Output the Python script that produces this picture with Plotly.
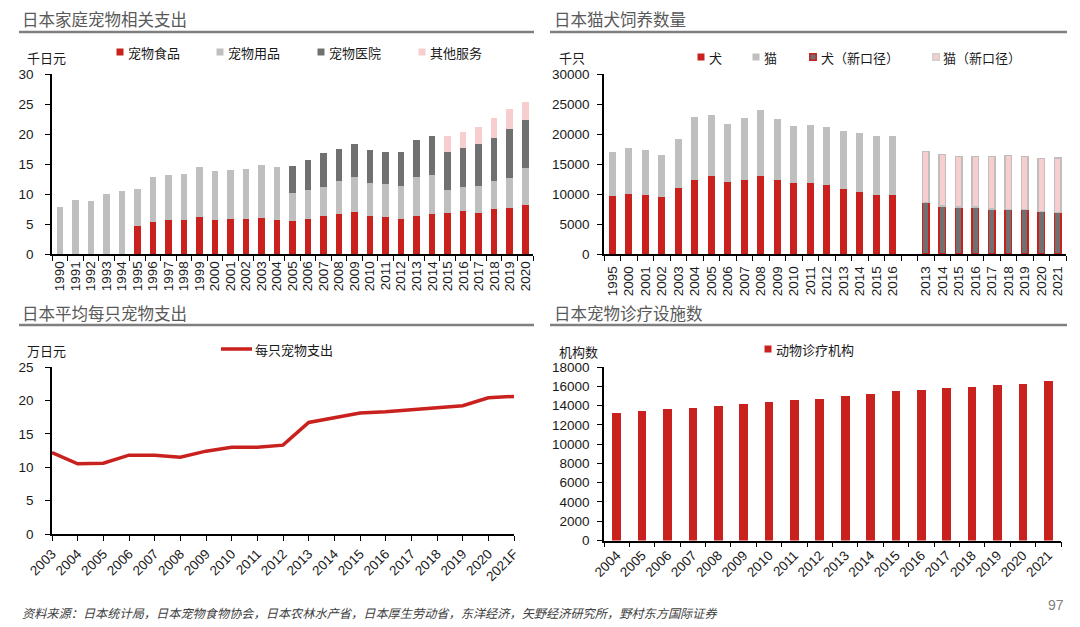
import plotly.graph_objects as go

W, H = 1080, 627
OFF = 8  # the page body adds an 8px margin around the figure
RED = "#C9211E"
LGRAY = "#BFBFBF"
DGRAY = "#707070"
PINK = "#F7CDCD"
CJK = "Noto Sans CJK SC"
NUM = "Liberation Sans, Arial, sans-serif"

# ---------------- data ----------------
# Chart 1: 日本家庭宠物相关支出 (千日元)
years1 = [str(y) for y in range(1990, 2021)]
pet_food = [None] * 5 + [4.7, 5.3, 5.6, 5.7, 6.2, 5.7, 5.8, 5.9, 6.0, 5.7,
                         5.5, 5.9, 6.4, 6.7, 7.0, 6.3, 6.1, 5.9, 6.4, 6.7,
                         6.9, 7.1, 6.9, 7.5, 7.7, 8.1]
pet_supplies = [7.8, 9.0, 8.9, 10.0, 10.5, 6.1, 7.5, 7.5, 7.7, 8.3,
                8.2, 8.2, 8.2, 8.9, 8.8, 4.7, 4.8, 4.8, 5.4, 5.8,
                5.5, 5.5, 5.5, 6.5, 6.4, 3.8, 4.0, 4.4, 4.6, 5.0, 6.2]
pet_hospital = [None] * 15 + [4.5, 5.0, 5.6, 5.4, 5.5, 5.5, 5.4, 5.6, 6.1,
                              6.5, 6.3, 6.6, 7.1, 7.3, 8.2, 8.1]
other_services = [None] * 25 + [2.6, 2.7, 2.7, 3.3, 3.3, 2.9]

# Chart 2: 日本猫犬饲养数量 (千只)
labels_old = ["1995"] + [str(y) for y in range(2000, 2017)]
dogs_old = [9700, 10000, 9780, 9440, 11060, 12390, 13000, 12000, 12390,
            13000, 12390, 11780, 11890, 11560, 10780, 10280, 9890, 9830]
cats_old = [7300, 7670, 7500, 7120, 8100, 10420, 10150, 9630, 10310,
            10930, 10140, 9620, 9570, 9620, 9730, 9890, 9830, 9770]
labels_new = [str(y) for y in range(2013, 2022)]
dogs_new = [8560, 8000, 7830, 7830, 7500, 7440, 7390, 7110, 6890]
cats_new = [8540, 8560, 8390, 8450, 8780, 8950, 8890, 8830, 9110]

# Chart 3: 日本平均每只宠物支出 (万日元)
years3 = [str(y) for y in range(2003, 2021)] + ["2021F"]
spend_per_pet = [12.2, 10.5, 10.6, 11.8, 11.8, 11.5, 12.4, 13.0, 13.0, 13.3,
                 16.7, 17.4, 18.1, 18.3, 18.6, 18.8, 19.2, 20.4, 20.6]

# Chart 4: 日本宠物诊疗设施数 (机构数)
years4 = [str(y) for y in range(2004, 2022)]
clinics = [13200, 13480, 13690, 13790, 14000, 14170, 14340, 14550, 14720,
           14970, 15210, 15480, 15620, 15790, 15970, 16100, 16280, 16520]


def px(x):
    return (x - OFF) / W


def py(y):
    return 1 - (y - OFF) / H


fig = go.Figure()

# ---- chart 1 ----
fig.add_trace(go.Bar(x=years1, y=pet_food, name="宠物食品", marker_color=RED,
                     width=0.42, xaxis="x", yaxis="y"))
fig.add_trace(go.Bar(x=years1, y=pet_supplies, name="宠物用品", marker_color=LGRAY,
                     width=0.42, xaxis="x", yaxis="y"))
fig.add_trace(go.Bar(x=years1, y=pet_hospital, name="宠物医院", marker_color=DGRAY,
                     width=0.42, xaxis="x", yaxis="y"))
fig.add_trace(go.Bar(x=years1, y=other_services, name="其他服务", marker_color=PINK,
                     width=0.42, xaxis="x", yaxis="y"))

# ---- chart 2 ----
pos_old = list(range(len(labels_old)))
pos_new = [len(labels_old) + 1 + i for i in range(len(labels_new))]
fig.add_trace(go.Bar(x=pos_old, y=dogs_old, name="犬", marker_color=RED,
                     width=0.42, xaxis="x2", yaxis="y2"))
fig.add_trace(go.Bar(x=pos_old, y=cats_old, name="猫", marker_color=LGRAY,
                     width=0.42, xaxis="x2", yaxis="y2"))
fig.add_trace(go.Bar(x=pos_new, y=dogs_new, name="犬（新口径）",
                     marker=dict(color=DGRAY, line=dict(color=RED, width=1.5)),
                     width=0.42, xaxis="x2", yaxis="y2"))
fig.add_trace(go.Bar(x=pos_new, y=cats_new, name="猫（新口径）",
                     marker=dict(color=PINK, line=dict(color=LGRAY, width=1.5)),
                     width=0.42, xaxis="x2", yaxis="y2"))

# ---- chart 3 ----
fig.add_trace(go.Scatter(x=years3, y=spend_per_pet, mode="lines", name="每只宠物支出",
                         line=dict(color=RED, width=3.5), xaxis="x3", yaxis="y3"))

# ---- chart 4 ----
fig.add_trace(go.Bar(x=years4, y=clinics, name="动物诊疗机构", marker_color=RED,
                     width=0.34, xaxis="x4", yaxis="y4"))

axis_common = dict(showline=True, linecolor="black", linewidth=1.5, showgrid=False,
                   zeroline=False, ticks="outside", ticklen=5, tickcolor="black",
                   tickwidth=1, tickfont=dict(family=NUM, size=13.5, color="#1a1a1a"),
                   fixedrange=True, automargin=False)

dom_y_top = [py(254), py(74)]
dom_y_bot3 = [py(534), py(367)]
dom_y_bot4 = [py(540.5), py(367)]

fig.update_layout(
    template="none",
    width=W, height=H, margin=dict(l=0, r=0, t=0, b=0, autoexpand=False),
    paper_bgcolor="white", plot_bgcolor="white",
    barmode="stack", showlegend=False,
    xaxis=dict(axis_common, domain=[px(52), px(533)], anchor="y", type="category",
               tickson="boundaries", tickangle=-90, dtick=1),
    yaxis=dict(axis_common, domain=dom_y_top, anchor="x", range=[0, 30], dtick=5,
               ticklabelstandoff=9),
    xaxis2=dict(axis_common, domain=[px(604), px(1066)], anchor="y2", type="linear",
                range=[-0.5, len(labels_old) + len(labels_new) + 0.5],
                tickmode="array", tickvals=pos_old + pos_new,
                ticktext=labels_old + labels_new, tickangle=-90,
                tickcolor="rgba(0,0,0,0)",
                minor=dict(tick0=0.5, dtick=1, ticks="outside", ticklen=5,
                           tickwidth=1, tickcolor="black")),
    yaxis2=dict(axis_common, domain=dom_y_top, anchor="x2", range=[0, 30000],
                dtick=5000, tickformat="d", ticklabelstandoff=5),
    xaxis3=dict(axis_common, domain=[px(52), px(514)], anchor="y3", type="category",
                range=[0, len(years3) - 1], tickangle=-45, dtick=1),
    yaxis3=dict(axis_common, domain=dom_y_bot3, anchor="x3", range=[0, 25], dtick=5,
                ticklabelstandoff=9),
    xaxis4=dict(axis_common, domain=[px(604), px(1061)], anchor="y4", type="category",
                tickson="boundaries", tickangle=-45, dtick=1),
    yaxis4=dict(axis_common, domain=dom_y_bot4, anchor="x4", range=[0, 18000],
                dtick=2000, tickformat="d", ticklabelstandoff=5),
)

shapes = []
annotations = []


def text(x, y, s, size=13, color="#1a1a1a", anchor="left", family=CJK, pad=1):
    annotations.append(dict(x=px(x), y=py(y), xref="paper", yref="paper", text=s,
                            showarrow=False, xanchor=anchor, yanchor="middle",
                            borderpad=pad,
                            font=dict(family=family, size=size, color=color)))


def square(cx, cy, fill, line=None, s=3.5):
    shapes.append(dict(type="rect", xref="paper", yref="paper",
                       x0=px(cx - s), x1=px(cx + s), y0=py(cy + s), y1=py(cy - s),
                       fillcolor=fill,
                       line=dict(color=line if line else fill, width=1.5 if line else 0)))


# section titles + underline
for tx, ty, t in [(21, 19.5, "日本家庭宠物相关支出"), (553, 19.5, "日本猫犬饲养数量"),
                  (21, 313, "日本平均每只宠物支出"), (553, 313, "日本宠物诊疗设施数")]:
    text(tx, ty, t, size=16.5, color="#595959", pad=0)
for x0, x1, y in [(19, 534, 32), (550, 1067, 32), (19, 534, 325), (550, 1067, 325)]:
    shapes.append(dict(type="line", xref="paper", yref="paper", x0=px(x0), x1=px(x1),
                       y0=py(y), y1=py(y), line=dict(color="#7f7f7f", width=2.5)))

# units
text(25, 57, "千日元")
text(557, 57, "千只")
text(25, 350, "万日元")
text(557, 351, "机构数")

# legend chart 1
for cx, name, col in [(120, "宠物食品", RED), (220, "宠物用品", LGRAY),
                      (321, "宠物医院", DGRAY), (422, "其他服务", PINK)]:
    square(cx, 52, col)
    text(cx + 6, 52, name)

# legend chart 2
square(701, 57, RED)
text(707, 57, "犬")
square(756, 57, LGRAY)
text(762, 57, "猫")
square(813, 57, DGRAY, line=RED, s=3.2)
text(819, 57, "犬（新口径）")
square(936, 57, PINK, line="#D0D0D0", s=3.2)
text(941, 57, "猫（新口径）")

# legend chart 3
shapes.append(dict(type="line", xref="paper", yref="paper", x0=px(221), x1=px(252),
                   y0=py(349), y1=py(349), line=dict(color=RED, width=3.5)))
text(253, 349, "每只宠物支出")

# legend chart 4
square(768, 349, RED)
text(774, 349, "动物诊疗机构")

# footer
text(20, 613, "<i>资料来源：日本统计局，日本宠物食物协会，日本农林水产省，日本厚生劳动省，东洋经济，矢野经济研究所，野村东方国际证券</i>",
     size=12.2, color="#404040")
text(1056, 605, "97", size=14, color="#7f7f7f", anchor="center", family=NUM)

fig.update_layout(shapes=shapes, annotations=annotations)
fig.write_html("out.html")
